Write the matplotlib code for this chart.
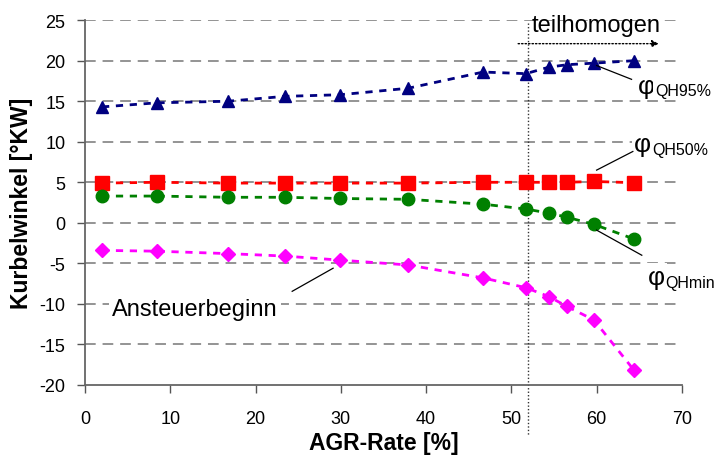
import matplotlib
matplotlib.use("Agg")
import matplotlib.pyplot as plt
from matplotlib.transforms import offset_copy

plt.rcParams['font.family'] = ['Liberation Sans', 'DejaVu Sans']
plt.rcParams['axes.unicode_minus'] = False

agr = [2.0, 8.4, 16.8, 23.4, 29.9, 37.9, 46.7, 51.7, 54.4, 56.5, 59.7, 64.4]
qh95 = [14.3, 14.8, 15.0, 15.6, 15.8, 16.6, 18.6, 18.4, 19.2, 19.5, 19.7, 20.0]
qh50 = [4.9, 5.0, 4.9, 4.9, 4.9, 4.9, 5.0, 5.0, 5.0, 5.0, 5.1, 4.95]
qhmin = [3.3, 3.3, 3.15, 3.15, 3.0, 2.9, 2.3, 1.7, 1.2, 0.7, -0.2, -2.0]
anst = [-3.4, -3.5, -3.8, -4.1, -4.6, -5.2, -6.8, -8.0, -9.1, -10.3, -12.0, -18.2]

x_ticks = [0, 10, 20, 30, 40, 50, 60, 70]
y_ticks = [-20, -15, -10, -5, 0, 5, 10, 15, 20, 25]
boundary = 52

fig = plt.figure(figsize=(7.14, 4.6), dpi=100)
ax = fig.add_axes([0.119, 0.161, 0.836, 0.793])
ax.set_xlim(0, 70)
ax.set_ylim(-20, 25)

for yv in y_ticks[1:]:
    ax.plot([0, 69.5], [yv, yv], color='#777777', lw=1.1, dashes=(7, 4.5), zorder=1)

dash = (2.6, 2.4)
ax.plot(agr, qh95, color='#000080', lw=2.0, dashes=dash, marker='^', ms=9, zorder=3)
ax.plot(agr, qh50, color='#ff0000', lw=2.0, dashes=dash, marker='s', ms=10, zorder=3)
ax.plot(agr, qhmin, color='#008000', lw=2.0, dashes=dash, marker='o', ms=9, zorder=3)
ax.plot(agr, anst, color='#ff00ff', lw=2.0, dashes=dash, marker='D', ms=7, zorder=3)

ax.plot([boundary, boundary], [24.6, -26.3], color='#333333', lw=1.0, ls=(0, (1, 1.5)),
        clip_on=False, zorder=2)
ax.annotate('', xy=(67.3, 22.1), xytext=(50.8, 22.1),
            arrowprops=dict(arrowstyle='-|>', color='black', lw=1.0, ls=(0, (1, 1.5)),
                            mutation_scale=10, shrinkA=0, shrinkB=0),
            annotation_clip=False)
ax.text(52.4, 24.4, 'teilhomogen', fontsize=17, ha='left', va='center')

fig.canvas.draw()
renderer = fig.canvas.get_renderer()
white = dict(facecolor='white', edgecolor='none', pad=1.5)


def phi_label(x, y, sub):
    t = ax.text(x, y, 'φ', fontsize=19, ha='left', va='baseline', clip_on=False,
                zorder=2, bbox=white)
    w = t.get_window_extent(renderer).width * 72.0 / fig.dpi
    tr = offset_copy(ax.transData, fig=fig, x=w + 0.5, y=-1.5, units='points')
    ax.text(x, y, sub, fontsize=11.5, ha='left', va='baseline', transform=tr, clip_on=False,
            zorder=2, bbox=white)


ax.plot([60.0, 64.1], [19.4, 17.7], color='black', lw=0.9, zorder=4)
phi_label(64.8, 16.0, 'QH95%')
ax.plot([60.0, 64.25], [6.5, 8.8], color='black', lw=0.9, zorder=4)
phi_label(64.4, 8.8, 'QH50%')
ax.plot([60.0, 65.3], [-0.9, -4.0], color='black', lw=0.9, zorder=4)
phi_label(66.0, -7.6, 'QHmin')

ax.plot([24.3, 29.1], [-8.45, -5.6], color='black', lw=0.9, zorder=4)
ax.text(3.2, -10.6, 'Ansteuerbeginn', fontsize=17, ha='left', va='center', zorder=2,
        bbox=dict(facecolor='white', edgecolor='none', pad=2))

ax.set_xticks(x_ticks)
ax.set_yticks(y_ticks)
ax.set_xticklabels([str(v) for v in x_ticks], fontsize=13)
ax.set_yticklabels([str(v) for v in y_ticks], fontsize=13)
ax.tick_params(direction='out', length=6, width=1.0, color='#555555', pad=8)
ax.tick_params(axis='x', pad=12)

for s in ['top', 'right']:
    ax.spines[s].set_visible(False)
for s in ['left', 'bottom']:
    ax.spines[s].set_color('#666666')
    ax.spines[s].set_linewidth(1.3)

ax.set_xlabel('AGR-Rate [%]', fontsize=16.5, fontweight='bold', labelpad=3)
ax.set_ylabel('Kurbelwinkel [°KW]', fontsize=16.5, fontweight='bold', labelpad=5)

fig.savefig('out.png', dpi=100)
